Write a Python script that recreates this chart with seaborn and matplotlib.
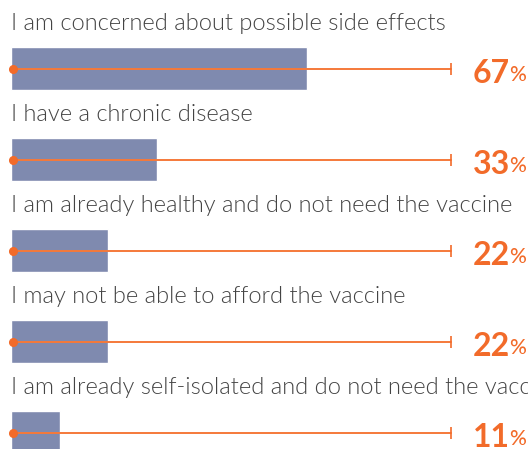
import matplotlib
matplotlib.use("Agg")
import matplotlib.pyplot as plt
import seaborn as sns
import pandas as pd

reasons = [
    "I am concerned about possible side effects",
    "I have a chronic disease",
    "I am already healthy and do not need the vaccine",
    "I may not be able to afford the vaccine",
    "I am already self-isolated and do not need the vaccine",
]
shares = [67, 33, 22, 22, 11]

bar_color = "#7F8AAF"
orange = "#F26B2A"
line_color = "#F5793A"

sns.set_theme(style="white")
plt.rcParams['font.family'] = ['Lato', 'DejaVu Sans']

df = pd.DataFrame({"reason": reasons, "share": shares})

fig = plt.figure(figsize=(5.28, 4.49), dpi=100)
ax = fig.add_axes([0, 0, 1, 1])

sns.barplot(data=df, y="reason", x="share", orient="h", color=bar_color,
            width=0.47, saturation=1, ax=ax)

# scale: 0 at px 11, 100 at px 453
px = 4.42
ax.set_xlim(-11 / px, (528 - 11) / px)
ax.set_ylim((449 - 68.5) / 91, -68.5 / 91)

for i, (r, v) in enumerate(zip(reasons, shares)):
    ax.plot([0.4, 99.6], [i, i], color=line_color, lw=1.4, zorder=3)
    ax.plot([0.4], [i], marker="o", ms=5.5, color=orange, zorder=4)
    ax.plot([99.6], [i], marker="|", ms=8, mew=1.2, color=orange, zorder=4)
    ax.text(0, i - 0.49, r, ha="left", va="center", fontsize=17,
            fontweight=300, color="#444444")
    t = ax.text(104.4, i + 0.05, str(v), ha="left", va="center", fontsize=23,
                fontweight="bold", color=orange)
    ax.annotate("%", xy=(1, 0), xycoords=t, xytext=(-0.5, 1.5), textcoords="offset points",
                ha="left", va="bottom", fontsize=15, fontweight="medium", color=orange)

ax.set_axis_off()
fig.savefig("out.png", dpi=100)
